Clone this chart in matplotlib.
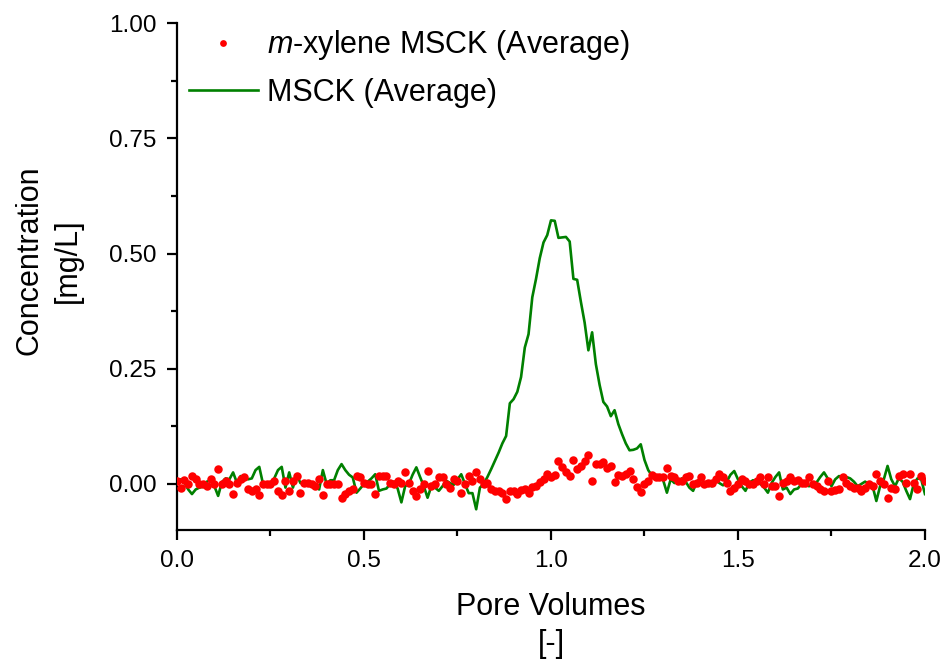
import numpy as np
import matplotlib
matplotlib.use("Agg")
import matplotlib.pyplot as plt
from matplotlib.ticker import MultipleLocator, FormatStrFormatter

plt.rcParams['font.family'] = ['Liberation Sans', 'DejaVu Sans']
plt.rcParams['mathtext.fontset'] = 'custom'
plt.rcParams['mathtext.it'] = 'Liberation Sans:italic'
plt.rcParams['mathtext.rm'] = 'Liberation Sans'

# pore volumes sampled every 0.01
pore_volumes = np.round(np.arange(0, 2.001, 0.01), 2)

# MSCK (Average) breakthrough curve
msck_avg = [
    0.005, 0.010, 0.002, -0.012, -0.022, -0.012, -0.008, -0.006, 0.005, 0.008,
    -0.005, -0.026, 0.004, 0.012, 0.010, 0.025, 0.003, 0.017, 0.015, 0.010,
    0.012, 0.030, 0.037, 0.000, 0.000, 0.002, 0.012, 0.030, 0.037, -0.008,
    0.025, -0.008, 0.020, 0.002, 0.000, 0.002, 0.000, -0.005, -0.012, 0.030,
    0.000, 0.008, 0.008, 0.030, 0.043, 0.030, 0.020, 0.014, -0.019, -0.010,
    0.000, 0.005, 0.012, 0.021, -0.015, -0.012, -0.010, 0.000, 0.005, -0.010,
    -0.040, -0.005, 0.000, 0.020, 0.036, 0.015, -0.005, -0.030, -0.005, -0.008,
    -0.015, -0.005, 0.007, 0.002, -0.002, 0.010, 0.021, 0.000, -0.020, -0.020,
    -0.055, -0.008, 0.000, 0.015, 0.032, 0.050, 0.068, 0.088, 0.104, 0.175,
    0.184, 0.200, 0.232, 0.296, 0.325, 0.405, 0.445, 0.490, 0.524, 0.540,
    0.572, 0.571, 0.534, 0.535, 0.536, 0.526, 0.445, 0.443, 0.395, 0.350,
    0.290, 0.329, 0.260, 0.215, 0.178, 0.168, 0.147, 0.160, 0.130, 0.108,
    0.088, 0.073, 0.074, 0.077, 0.086, 0.052, 0.030, 0.018, 0.016, 0.012,
    0.008, -0.019, 0.010, 0.002, 0.006, 0.012, 0.005, -0.008, -0.015, 0.005,
    0.012, 0.002, -0.002, -0.005, 0.010, 0.002, -0.003, 0.005, 0.020, 0.028,
    0.010, -0.005, -0.015, 0.002, 0.008, 0.005, 0.000, -0.008, -0.019, 0.002,
    0.015, 0.025, -0.012, -0.008, -0.022, -0.012, -0.010, 0.000, -0.002, -0.005,
    0.000, 0.003, 0.015, 0.025, 0.012, -0.005, 0.010, 0.017, 0.015, 0.015,
    0.012, 0.005, -0.005, 0.000, 0.005, 0.000, -0.005, -0.037, -0.005, 0.010,
    0.039, 0.010, -0.005, 0.012, 0.005, -0.015, -0.033, 0.000, 0.012, 0.010,
    -0.022,
]

# m-xylene MSCK (Average)
mxylene_avg = [
    0.007, -0.008, 0.008, 0.000, 0.017, 0.010, 0.000, 0.000, -0.004, 0.010,
    0.000, 0.032, 0.000, 0.006, 0.000, -0.022, 0.003, 0.010, 0.014, -0.012,
    -0.015, -0.012, -0.024, 0.000, 0.000, 0.000, 0.006, -0.015, -0.024, 0.006,
    -0.015, 0.006, 0.017, -0.019, 0.003, 0.003, 0.000, -0.004, 0.010, -0.024,
    0.000, 0.000, 0.000, 0.000, -0.030, -0.022, -0.015, -0.012, 0.017, 0.014,
    0.003, 0.000, 0.000, -0.022, 0.017, 0.017, 0.017, 0.003, 0.000, 0.006,
    0.003, 0.025, 0.003, -0.015, -0.026, -0.012, 0.000, 0.028, -0.004, 0.000,
    0.014, 0.014, 0.000, -0.008, 0.010, 0.006, -0.019, 0.000, 0.017, 0.006,
    0.025, 0.010, 0.000, 0.003, -0.012, -0.015, -0.016, -0.019, -0.033, -0.016,
    -0.015, -0.022, -0.014, -0.012, -0.019, -0.007, -0.004, 0.005, 0.010, 0.021,
    0.014, 0.019, 0.050, 0.036, 0.025, 0.017, 0.051, 0.032, 0.039, 0.050,
    0.063, 0.007, 0.044, 0.043, 0.048, 0.035, 0.039, 0.005, 0.020, 0.017,
    0.022, 0.027, 0.010, -0.007, -0.017, 0.000, 0.007, 0.020, 0.014, 0.014,
    0.014, 0.035, 0.017, 0.014, 0.006, 0.006, 0.014, 0.017, -0.001, 0.003,
    0.014, 0.000, 0.003, 0.003, 0.010, 0.021, 0.014, 0.003, -0.015, -0.008,
    0.000, 0.010, 0.006, 0.000, 0.000, 0.006, 0.014, 0.000, 0.014, -0.004,
    -0.004, -0.026, 0.003, 0.006, 0.014, 0.006, 0.008, 0.003, 0.003, 0.014,
    0.000, -0.004, -0.012, -0.015, 0.006, -0.015, -0.014, -0.012, 0.014, 0.003,
    -0.004, -0.008, -0.008, -0.015, -0.008, 0.000, -0.005, 0.021, 0.006, 0.000,
    -0.030, -0.008, -0.012, 0.017, 0.021, 0.003, 0.021, 0.003, -0.012, 0.017,
    0.006,
]

fig = plt.figure(figsize=(9.45, 6.65), dpi=100)
ax = fig.add_axes([0.1873, 0.203, 0.7915, 0.7622])

ax.plot(pore_volumes, msck_avg, color='#008000', lw=1.9,
        label='MSCK (Average)', zorder=2)
ax.plot(pore_volumes, mxylene_avg, ls='none', marker='o', ms=6.1,
        color='#ff0000', mec='none', label='$m$-xylene MSCK (Average)', zorder=3)

ax.set_xlim(0, 2.0)
ax.set_ylim(-0.1, 1.0)
ax.xaxis.set_major_locator(MultipleLocator(0.5))
ax.xaxis.set_minor_locator(MultipleLocator(0.25))
ax.yaxis.set_major_locator(MultipleLocator(0.25))
ax.yaxis.set_minor_locator(MultipleLocator(0.125))
ax.xaxis.set_major_formatter(FormatStrFormatter('%.1f'))
ax.yaxis.set_major_formatter(FormatStrFormatter('%.2f'))

for side in ('top', 'right'):
    ax.spines[side].set_visible(False)
for side in ('left', 'bottom'):
    ax.spines[side].set_linewidth(1.6)

ax.tick_params(which='major', length=7.5, width=1.6, labelsize=17.5, pad=7)
ax.tick_params(which='minor', length=4.5, width=1.6)

ax.set_xlabel('Pore Volumes\n[-]', fontsize=22, linespacing=1.3, va='top')
ax.set_ylabel('Concentration\n[mg/L]', fontsize=22, linespacing=1.35)
ax.xaxis.set_label_coords(0.5, -0.122)
ax.yaxis.set_label_coords(-0.126, 0.532)

handles, labels = ax.get_legend_handles_labels()
leg = ax.legend(handles[::-1], labels[::-1], loc='upper left',
                bbox_to_anchor=(-0.021, 1.044), frameon=False, fontsize=22,
                markerscale=0.8, handlelength=2.26, handletextpad=0.3,
                labelspacing=0.5)

fig.savefig('out.png', dpi=100)
